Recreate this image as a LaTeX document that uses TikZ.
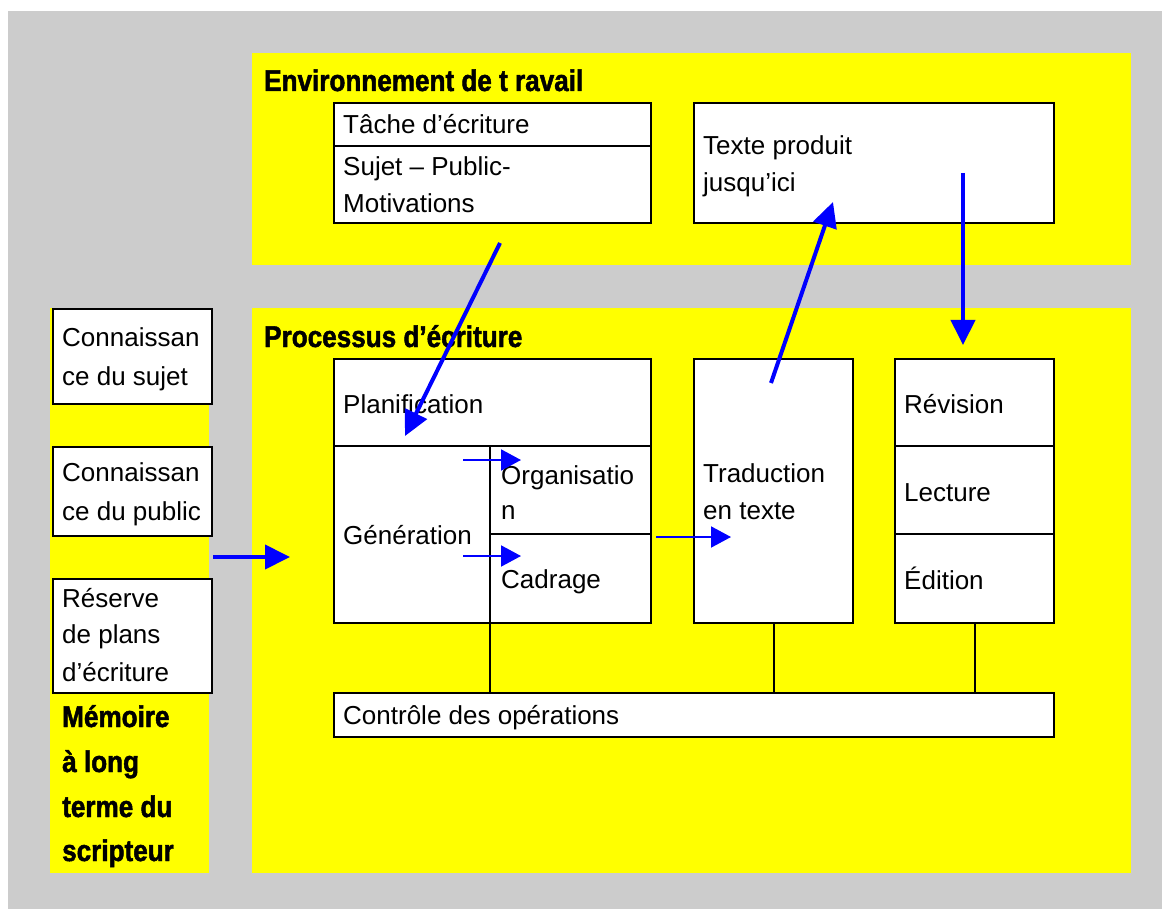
\documentclass[tikz,border=0pt]{standalone}
\usepackage{fontspec}
\setmainfont{Liberation Sans}
\newfontfamily\titlefont[FakeStretch=0.87,FakeBold=1.6]{Liberation Sans Bold}
\usetikzlibrary{arrows.meta}
\definecolor{bggray}{HTML}{CCCCCC}
\definecolor{ylw}{HTML}{FFFF00}
\definecolor{arrblue}{HTML}{0000FF}
\tikzset{
  box/.style={draw=black, line width=2pt, fill=white, inner sep=0pt, anchor=north west},
  divider/.style={draw=black, line width=1.6pt},
  txt/.style={anchor=base west, inner sep=0pt, font=\fontsize{26}{30}\selectfont},
  ttl/.style={anchor=base west, inner sep=0pt, font=\titlefont\fontsize{30}{34}\selectfont},
  thick arrow/.style={draw=arrblue, line width=4pt, -{Triangle[length=25pt,width=24pt]}},
  thin arrow/.style={draw=arrblue, line width=2pt, -{Triangle[length=20pt,width=21pt]}},
  link/.style={draw=black, line width=2pt}
}
\begin{document}
\begin{tikzpicture}[x=1pt,y=-1pt]
\useasboundingbox (0,0) rectangle (1162,909);
% backgrounds
\fill[white] (0,0) rectangle (1162,909);
\fill[bggray] (8,11) rectangle (1162,909);
\fill[ylw] (252,53) rectangle (1131,265);
\fill[ylw] (252,308) rectangle (1131,873);
\fill[ylw] (50,308) rectangle (209,873);

% titles
\node[ttl] (envt) at (264,91) {Environnement de t ravail};
\node[ttl] (proct) at (264,347) {Processus d’écriture};

% Environnement boxes
\node[box, minimum width=317pt, minimum height=120pt] (tache) at (333,102) {};
\draw[divider] (333,146) -- (650,146);
\node[txt] (tachet) at (343,134) {Tâche d’écriture};
\node[txt] (sujt1) at (343,176) {Sujet – Public-};
\node[txt] (sujt2) at (343,213) {Motivations};

\node[box, minimum width=360pt, minimum height=120pt] (texte) at (693,102) {};
\node[txt] (textet1) at (703,155) {Texte produit};
\node[txt] (textet2) at (703,192) {jusqu’ici};

% left column
\node[box, minimum width=159pt, minimum height=95pt] (csuj) at (52,308) {};
\node[txt] (csujt1) at (62,346) {Connaissan};
\node[txt] (csujt2) at (62,385) {ce du sujet};
\node[box, minimum width=159pt, minimum height=89pt] (cpub) at (52,446) {};
\node[txt] (cpubt1) at (62,481) {Connaissan};
\node[txt] (cpubt2) at (62,520) {ce du public};
\node[box, minimum width=159pt, minimum height=114pt] (res) at (52,578) {};
\node[txt] (rest1) at (62,607) {Réserve};
\node[txt] (rest2) at (62,643) {de plans};
\node[txt] (rest3) at (62,681) {d’écriture};
\node[ttl] (mem1) at (62,727) {Mémoire};
\node[ttl] (mem2) at (62,772) {à long};
\node[ttl] (mem3) at (62,817) {terme du};
\node[ttl] (mem4) at (62,861) {scripteur};

% Processus boxes
\node[box, minimum width=317pt, minimum height=264pt] (plan) at (333,358) {};
\draw[divider] (333,446) -- (650,446);
\draw[divider] (490,446) -- (490,622);
\draw[divider] (490,534) -- (650,534);
\coordinate (genorg) at (490,622);
\node[txt] (plant) at (343,413) {Planification};
\node[txt] (gent) at (343,544) {Génération};
\node[txt] (orgt1) at (501,484) {Organisatio};
\node[txt] (orgt2) at (501,519) {n};
\node[txt] (cadt) at (501,588) {Cadrage};

\node[box, minimum width=159pt, minimum height=264pt] (trad) at (693,358) {};
\node[txt] (tradt1) at (703,482) {Traduction};
\node[txt] (tradt2) at (703,519) {en texte};

\node[box, minimum width=159pt, minimum height=264pt] (rev) at (894,358) {};
\draw[divider] (894,446) -- (1053,446);
\draw[divider] (894,534) -- (1053,534);
\node[txt] (revt) at (904,413) {Révision};
\node[txt] (lect) at (904,501) {Lecture};
\node[txt] (edt) at (904,589) {Édition};

\node[box, minimum width=720pt, minimum height=44pt] (ctrl) at (333,692) {};
\node[txt] (ctrlt) at (343,724) {Contrôle des opérations};

% links to control
\draw[link] (genorg) -- (genorg |- ctrl.north);
\draw[link] (trad.south) -- (trad.south |- ctrl.north);
\draw[link] (rev.south) -- (rev.south |- ctrl.north);

% arrows
\coordinate (a1s) at (500,243);
\coordinate (a1e) at (405,436);
\coordinate (a2s) at (771,383);
\coordinate (a2e) at (833,202);
\coordinate (a3s) at (963,173);
\coordinate (a3e) at (963,345);
\coordinate (a4s) at (213,557);
\coordinate (a4e) at (290,557);
\coordinate (t1s) at (463,460);
\coordinate (t1e) at (521,460);
\coordinate (t2s) at (463,556);
\coordinate (t2e) at (521,556);
\coordinate (t3s) at (656,537);
\coordinate (t3e) at (731,537);
\draw[thick arrow] (a1s) -- (a1e);
\draw[thick arrow] (a2s) -- (a2e);
\draw[thick arrow] (a3s) -- (a3e);
\draw[thick arrow] (a4s) -- (a4e);
\draw[thin arrow] (t1s) -- (t1e);
\draw[thin arrow] (t2s) -- (t2e);
\draw[thin arrow] (t3s) -- (t3e);
\end{tikzpicture}
\end{document}
